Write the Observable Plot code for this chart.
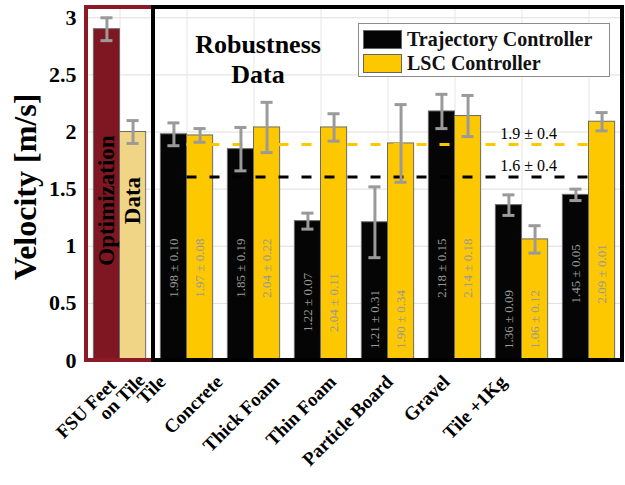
<!DOCTYPE html>
<html><head><meta charset="utf-8">
<script src="https://cdn.jsdelivr.net/npm/d3@7"></script>
<script src="https://cdn.jsdelivr.net/npm/@observablehq/plot@0.6"></script>
<style>
body{margin:0;background:#fff;}
#wrap{position:relative;width:625px;height:485px;font-family:"Liberation Serif","Times New Roman",serif;}
#legend{position:absolute;left:358px;top:23px;width:252px;height:54px;border:1.5px solid #8c8c8c;background:#fff;box-sizing:border-box;padding:3px 0 0 4px}
.row{display:flex;align-items:center;height:24px;font-weight:bold;font-size:20px;color:#111;white-space:nowrap}
.sw{width:39px;height:19px;border:1px solid #666;margin-right:5px;box-sizing:border-box;flex:none}
</style></head><body><div id="wrap"><div id="legend"></div></div>
<script>
// ---- data ----
const categories = ["FSU Feet on Tile","Tile","Concrete","Thick Foam","Thin Foam","Particle Board","Gravel","Tile +1Kg"];
const series = ["Trajectory Controller","LSC Controller"];
const fsuSeries = ["Optimization","Optimization Data"];
const fsuTexts = ["Optimization","Data"];
const fsuMean = [2.90, 2.00];
const fsuErr = [0.10, 0.10];
const trajMean = [1.98,1.85,1.22,1.21,2.18,1.36,1.45];
const trajSd   = [0.10,0.19,0.07,0.31,0.15,0.09,0.05];
const lscMean  = [1.97,2.04,2.04,1.90,2.14,1.06,2.09];
const lscSd    = [0.08,0.22,0.11,0.34,0.18,0.12,0.01];
const lscErrBar= [0.06,0.22,0.12,0.34,0.18,0.12,0.08];
const yTicks = [0,0.5,1,1.5,2,2.5,3];
const colorRange = ["#7e1722","#f0d586","#050505","#fec800"];
const yMax = 3.09;

// ---- build tables ----
const fmt = (m, s) => `${m.toFixed(2)} \u00b1 ${s.toFixed(2)}`;
const rows = [];
fsuSeries.forEach((s, k) => rows.push({idx: 0, series: s, mean: fsuMean[k], err: fsuErr[k], side: k ? 1 : -1}));
trajMean.forEach((m, i) => {
  rows.push({idx: i + 1, series: series[0], mean: m, err: trajSd[i], label: fmt(m, trajSd[i]), side: -1});
  rows.push({idx: i + 1, series: series[1], mean: lscMean[i], err: lscErrBar[i], label: fmt(lscMean[i], lscSd[i]), side: 1});
});
const W = 0.39;
const cx = d => d.idx + d.side * W / 2;
const lowByIdx = d3.rollup(rows, v => d3.min(v, d => d.mean - d.err), d => d.idx);
const labelBase = d => Math.max(0.1, Math.min(0.55, lowByIdx.get(d.idx) - 0.9));
const robust = rows.filter(d => d.idx > 0);
const stats = [
  {m: d3.mean(lscMean), s: d3.deviation(lscMean), c: colorRange[3]},
  {m: d3.mean(trajMean), s: d3.deviation(trajMean), c: "#000"}
];
const catLabel = d => d === categories[0] ? "FSU Feet\u00a0\u00a0\u00a0\u00a0\u00a0\non Tile" : d;
const catX = (d, i) => i === 0 ? 0.08 : 0.57 + (i - 1) * 0.848;
const catY = (d, i) => i === 0 ? 0.12 : 0;
const n = categories.length;

const plot = Plot.plot({
  width: 625, height: 485,
  marginLeft: 86, marginRight: 3, marginTop: 7, marginBottom: 125,
  style: {fontFamily: "'Liberation Serif','Times New Roman',serif", background: "white", overflow: "visible"},
  x: {domain: [-0.5, n - 0.5], axis: null},
  y: {domain: [0, yMax], axis: null},
  color: {domain: [...fsuSeries, ...series], range: colorRange},
  marks: [
    Plot.gridY(yTicks.slice(1), {stroke: "#dedede", strokeOpacity: 1}),
    Plot.gridX(d3.range(n), {stroke: "#e6e6e6", strokeOpacity: 1}),
    Plot.rect(rows, {x1: d => d.idx + Math.min(0, d.side) * W, x2: d => d.idx + Math.max(0, d.side) * W, y1: 0, y2: "mean", fill: "series", stroke: "#6a6a6a", strokeWidth: 1}),
    Plot.rect([categories[0]], {x1: -0.5, x2: 0.5, y1: 0, y2: yMax, fill: "none", stroke: "#8b1a26", strokeWidth: 4}),
    Plot.rect([categories.slice(1)], {x1: 0.5, x2: n - 0.5, y1: 0, y2: yMax, fill: "none", stroke: "#000", strokeWidth: 4}),
    Plot.ruleY(stats, {y: "m", x1: 1, x2: n - 1, stroke: "c", strokeWidth: 3, strokeDasharray: "10,13"}),
    Plot.ruleX(rows, {x: cx, y1: d => d.mean - d.err, y2: d => d.mean + d.err, stroke: "#9a9a9a", strokeWidth: 3}),
    Plot.ruleY(rows, {y: d => d.mean - d.err, x1: d => cx(d) - 0.09, x2: d => cx(d) + 0.09, stroke: "#9a9a9a", strokeWidth: 3}),
    Plot.ruleY(rows, {y: d => d.mean + d.err, x1: d => cx(d) - 0.09, x2: d => cx(d) + 0.09, stroke: "#9a9a9a", strokeWidth: 3}),
    Plot.text(robust, {x: cx, y: labelBase, text: "label", rotate: -90, textAnchor: "start", fill: "#999", fontSize: 13, ariaLabel: "bar label"}),
    Plot.text(stats, {x: 6.1, y: "m", dy: -11, text: d => `${d.m.toFixed(1)} \u00b1 ${d.s.toFixed(1)}`, fill: "#000", fontSize: 16, ariaLabel: "mean label"}),
    Plot.text(fsuTexts, {x: (d, i) => i ? W / 2 : -W / 2, y: 1.40, text: d => d, rotate: -90, fill: "#000", fontSize: 23, fontWeight: "bold"}),
    Plot.text(["Robustness\nData"], {x: 2.06, y: 2.645, text: d => d, fontSize: 26, fontWeight: "bold", lineHeight: 1.15, fill: "#000"}),
    Plot.text(categories, {x: catX, y: catY, text: catLabel, rotate: -45, textAnchor: "end", lineAnchor: "top", dy: 14, fontSize: 19, fontWeight: "bold", lineHeight: 0.9, fill: "#000"}),
    Plot.axisY(yTicks, {tickSize: 0, tickPadding: 10, fontSize: 22, fontWeight: "bold", tickFormat: d => String(d), label: null, fill: "#000"}),
    Plot.text(["Velocity [m/s]"], {x: -0.5, y: 1.52, dx: -61, text: d => d, rotate: -90, fontSize: 32, fontWeight: "bold", fill: "#000"})
  ]
});
plot.querySelectorAll('g[aria-label="bar label"] text').forEach(t => t.style.letterSpacing = "2.5px");
plot.querySelectorAll('g[aria-label="mean label"] text').forEach(t => t.style.letterSpacing = "1.4px");
document.getElementById("wrap").prepend(plot);

const legend = document.getElementById("legend");
series.forEach((s, k) => {
  const row = document.createElement("div");
  row.className = "row";
  const sw = document.createElement("span");
  sw.className = "sw";
  sw.style.background = colorRange[2 + k];
  row.appendChild(sw);
  row.appendChild(document.createTextNode(s));
  legend.appendChild(row);
});
</script></body></html>
